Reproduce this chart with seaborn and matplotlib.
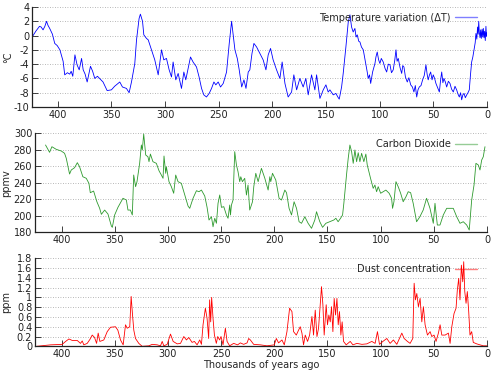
import matplotlib
matplotlib.use("Agg")
import matplotlib.pyplot as plt
from matplotlib.ticker import FuncFormatter
import seaborn as sns
import pandas as pd

# Vostok ice core: temperature, CO2, dust (thousands of years ago)
temp_age = [423, 420.5, 417, 415.5, 413.7, 412, 410.5, 409, 407.5, 405, 402.8, 400.5, 398, 395,
            393.5, 391, 388.8, 387.5, 386, 384, 382, 380, 377.8, 376.3, 374.5, 372.6, 369.5, 367.5,
            365.5, 363, 361, 357.8, 354, 350, 347, 343.8, 342.2, 339.7, 336, 333.5, 331.3, 328.2,
            326.6, 324.2, 323, 321, 319.8, 317.3, 315.7, 312.6, 309.6, 306.4, 303.3, 301.2, 298.7,
            296.2, 294, 292.5, 290, 287.8, 284.7, 282.5, 280.7, 278.5, 276.3, 273.9, 270.7, 268.3,
            266, 263.9, 261.4, 258.9, 256.7, 254.5, 252.7, 250.5, 248.3, 245.8, 242.7, 240.2, 238,
            236.5, 234.9, 232.7, 230.9, 228.6, 226.5, 224.6, 222.5, 221, 219, 217.2, 214.7, 211.7,
            208.6, 206, 203.9, 201.7, 199.3, 196.1, 193, 190.9, 188.3, 185.3, 182.1, 180, 177.4,
            174.4, 171.3, 168.8, 166.6, 163.5, 160.4, 158.8, 155.7, 152.6, 150.1, 148, 146.4, 143.3,
            140.8, 139, 137.7, 135.5, 134, 131.5, 129.3, 127.7, 126.2, 124.7, 123.1, 122, 120.9,
            119.5, 118.4, 117, 115.3, 114, 112.8, 111.5, 110.7, 109.5, 108.4, 106.6, 105.5, 104.4,
            103.5, 102.3, 101, 99.8, 98.5, 96.7, 95, 93.5, 92, 90.4, 89, 87.4, 86, 84.8, 83.8, 82.7,
            81, 79.5, 78.5, 77.4, 76, 74.3, 72.8, 71.1, 69.5, 68.1, 66.8, 65.5, 64.3, 63.1, 61.5, 60,
            58.5, 56.9, 55.8, 54.8, 53.6, 52.5, 51.2, 50.1, 48.8, 47.6, 46, 44.4, 43.3, 42.2, 41.1,
            40.1, 38.8, 37.6, 36, 34.5, 33, 31.4, 29.8, 28.3, 27, 25.8, 24.6, 23.6, 22.5, 21.4, 20.2,
            18.9, 17.7, 16.5, 15.4, 14.3, 13.2, 12.1, 11, 10.3, 9.5, 8.8, 8.2, 7.7, 7.2, 6.5, 5.9,
            5.3, 4.6, 4, 3.4, 2.8, 2.2, 1.6, 1.0, 0.5, 0]
temp_val = [0.0, 0.6, 1.3, 1.2, 0.8, 1.3, 2.0, 1.4, 1.0, 0.2, -1.1, -1.4, -2.0, -3.6,
            -5.5, -5.2, -5.4, -5.0, -5.7, -2.7, -4.1, -4.8, -3.2, -4.8, -5.4, -6.5, -4.3, -5.0,
            -6.0, -5.7, -6.0, -6.5, -7.7, -7.6, -7.1, -6.7, -6.5, -7.2, -7.4, -8.0, -6.5, -3.9,
            -0.6, 2.4, 3.0, 2.0, 0.1, -0.4, -0.6, -2.0, -3.4, -5.5, -2.0, -3.4, -3.2,
            -4.8, -5.8, -3.7, -6.2, -5.3, -7.4, -5.1, -6.2, -4.6, -3.0, -3.7, -4.4, -5.8,
            -7.4, -8.3, -8.6, -8.1, -7.4, -6.5, -6.9, -6.5, -7.2, -6.7, -5.1, -1.1, 2.0,
            0.1, -2.0, -3.2, -4.8, -7.2, -6.2, -7.4, -5.1, -4.8, -2.5, -1.1, -1.6, -2.5,
            -3.4, -4.8, -2.7, -1.8, -3.4, -4.8, -6.0, -3.7, -6.7, -8.6, -7.9, -5.5, -7.6,
            -6.0, -7.2, -6.0, -8.3, -5.5, -7.6, -5.5, -8.8, -7.6, -6.9, -7.9, -7.6, -8.3,
            -8.1, -8.6, -8.9, -7.2, -5.3, -1.6, 1.9, 2.9, 1.2, 0.5, 1.0, -0.2, 0.1,
            -0.8, -0.9, -1.6, -2.0, -3.0, -4.1, -5.2, -6.0, -5.5, -6.7, -5.1, -4.5, -3.9,
            -3.0, -2.3, -3.4, -3.9, -3.2, -3.7, -4.6, -5.1, -4.0, -4.1, -5.2, -4.8, -3.5, -2.0, -3.6, -3.2,
            -4.5, -5.3, -4.2, -4.4, -5.8, -6.5, -5.9, -6.9, -7.2, -7.9, -7.0, -8.6, -7.6, -7.2, -7.0, -6.2,
            -5.6, -4.1, -5.4, -6.2, -5.5, -5.1, -6.2, -5.5, -6.0, -6.7, -7.3, -7.9, -6.3, -5.1, -6.6,
            -6.0, -6.5, -7.2, -6.4, -6.7, -7.5, -7.9, -7.1, -7.6, -8.2, -8.6, -8.0, -9.0, -8.3, -8.1, -8.7,
            -8.3, -8.0, -7.6, -5.5, -3.7, -3.0, -2.0, -1.0, 0.3, -0.5, 1.2, 0.2, 2.0, 0.5, -0.3, 0.8,
            -0.4, 0.9, -0.2, 1.0, -0.3, 0.6, -0.7, 1.3, -0.1, 0.4]

co2_age = [415.1, 411.3, 409.1, 405, 400.3, 397.2, 395.6, 392.5, 390.9, 387.8, 385.2, 383.1, 380,
           376.8, 374.3, 373, 369.9, 366.8, 364.2, 362.6, 359.5, 356.4, 353.2, 352.3, 350.1, 347,
           342.3, 339.1, 337.6, 335.3, 333.5, 332.2, 330.4, 329.1, 326.6, 325, 324.1, 322.8, 320.9,
           318.8, 317.8, 316.5, 314.1, 310.9, 308.4, 306.2, 304.6, 303.7, 302.1, 301.5, 299, 296.8,
           294.6, 292.7, 290.5, 287.4, 284.2, 281.1, 279.5, 276.4, 273.2, 270.8, 268.5, 265.4,
           263.2, 261.4, 259.1, 257.6, 256, 254.4, 252.9, 251.3, 249.7, 247.5, 245, 243.5, 241.9,
           241.2, 240.3, 238.8, 237.2, 235.6, 234.1, 232.5, 231.5, 230, 227.8, 226.2, 224.7, 223.1,
           220.5, 219.3, 217.4, 215.2, 212.1, 208.9, 205.8, 204.2, 203.3, 201.7, 198.6, 195.5,
           193.2, 190.1, 188.5, 186.1, 183.8, 181.4, 179.1, 176.7, 174.4, 171.3, 168.2, 165, 161.9,
           160.3, 157.2, 154.6, 151.5, 147.8, 144, 142.1, 140, 137.7, 135.8, 134.6, 132.1, 130.5,
           128.9, 127.3, 125.8, 124.2, 122.6, 121.1, 119.5, 117.9, 115.8, 113.9, 112.6, 109.5, 107,
           105.4, 103.8, 102.3, 100, 97.6, 95.1, 92, 89.7, 88.8, 87.5, 85.6, 83.5, 81.2, 78.8, 76.2,
           74.1, 71.8, 69.4, 66.2, 63.1, 60, 56.8, 53.6, 50.5, 48.9, 46.7, 44.2, 41.1, 37.9, 31.7,
           28.5, 25.4, 22.3, 19.1, 16.7, 14.4, 12.2, 10.4, 8.2, 6.6, 5, 3.5, 1.9]
co2_val = [285.8, 276.9, 283.7, 280.5, 278.5, 275.7, 269.6, 250.5, 255.4, 258.2, 264.3, 259.4, 247.2,
           245.3, 239.2, 227.8, 229.8, 216.8, 208.8, 201.5, 206.7, 201.9, 187.3, 185.7, 200.7, 210,
           221, 218.9, 206.7, 206.7, 200.7, 249.3, 235.1, 241.2, 263.5, 285.8, 279.7, 299.1, 273.6,
           271.5, 265.5, 274.8, 265.5, 263.5, 254.5, 249.3, 245.3, 272.4, 251.4, 259.4, 241.2, 235.1,
           227.1, 249.3, 241.2, 239.2, 225, 211.6, 208.8, 221, 230.2, 229, 231, 223.8,
           210, 194.6, 198.6, 186.4, 196.7, 190.6, 214.9, 225, 210, 210.8, 200.7, 196.7, 212.8,
           200.7, 212.8, 218.9, 277.7, 261.5, 253.3, 241.2, 247.2, 241.2, 245.3, 225, 237.1, 206.7,
           216.8, 235.1, 251.4, 241.2, 257.4, 245.3, 231, 247.2, 241.2, 251.4, 243.2, 221,
           218.9, 231, 227.8, 208.8, 200.7, 216.8, 208.8, 192.5, 190.6, 198.6, 190.6, 184.5, 194.6,
           204.7, 192.5, 185.7, 190.6, 192.5, 194.6, 196.7, 192.5, 196.7, 200.7, 214.9, 249.3, 269.6,
           285.8, 277.7, 263.5, 279.7, 265.5, 276.4, 265.5, 275.7, 265.5, 274.8, 261.5, 245.3, 233.1,
           237.1, 229, 235.1, 227.1, 229, 231, 227.1, 221, 208.8, 216.8, 241.2, 235.1, 227.1, 216.8, 222.9,
           229, 227.8, 214.9, 192.5, 198.6, 206.7, 221, 208.8, 190.6, 214.9, 188.5, 188.5, 200.7, 208.8, 208.8,
           198.6, 190.6, 192.5, 188.5, 182.4, 218.9, 237.1, 263.5, 261.5, 255.4, 267.5, 271.5, 283.7]

dust_age = [423.5, 410.3, 399.4, 396.2, 393.1, 390, 385.3, 382.2, 380.6, 379.1, 375.9, 373.4, 371.2,
            369, 367.1, 365.6, 364, 360.3, 357.1, 354, 349.3, 347.1, 344.6, 342.1, 339.9, 338.3,
            335.9, 334.6, 333.3, 332.1, 330.5, 327.4, 324.2, 318, 314.8, 310.1, 307, 305.4, 303.9,
            300.7, 297.6, 295.1, 291.3, 288.2, 285.1, 282.6, 280.4, 277.3, 275.1, 272.6, 270.1,
            268.5, 267, 264.8, 263.2, 261.7, 260.8, 259.8, 258.9, 257.6, 256.3, 254.5, 253.2, 251.4,
            250.1, 248.2, 246, 244.4, 242, 238.2, 234.5, 231.9, 228.8, 225.6, 224.1, 222.5, 219.4,
            213.1, 206.9, 200, 198.1, 196, 192.8, 190.6, 188.1, 185.6, 183.4, 181.9, 179.3, 177.2,
            175.6, 174, 172.5, 170.9, 168.7, 166.8, 164.6, 163.1, 161.5, 159.9, 158.4, 156.8, 155.6,
            154.3, 153.1, 151.2, 150, 148.7, 147.4, 146.2, 144.9, 143.7, 142.4, 141.1, 139.9, 138.7,
            137.4, 136.2, 134.9, 132.4, 128.6, 126.1, 122.3, 117.6, 113, 108.3, 105.2, 103, 101.1,
            97.9, 94.2, 91.1, 88, 84.8, 80.1, 77.9, 74.8, 72.3, 69.8, 68.5, 67.3, 66, 64.5, 62.9,
            61.3, 59.8, 58.2, 56, 53.5, 51.9, 49.8, 47.9, 45.7, 44.1, 42.5, 39.4, 36.3, 34.7, 33.1,
            31, 29.1, 27.9, 26.6, 25.4, 24.1, 22.8, 21.9, 20.9, 19.7, 18.5, 17.2, 16, 14.4, 12.9,
            9.7, 6.6, 3.5, 0.3]
dust_val = [0.0, 0.03, 0.04, 0.1, 0.15, 0.12, 0.12, 0.06, 0.11, 0.03, 0.06, 0.14, 0.23,
            0.18, 0.06, 0.27, 0.1, 0.13, 0.3, 0.39, 0.4, 0.33, 0.13, 0.03, 0.44, 0.37,
            0.4, 1.02, 0.64, 0.33, 0.16, 0.06, 0.0, 0.01, 0.04, 0.03, 0.01, 0.1, 0.01,
            0.04, 0.25, 0.1, 0.05, 0.06, 0.2, 0.13, 0.18, 0.08, 0.1, 0.03, 0.13,
            0.04, 0.44, 0.78, 0.57, 0.16, 0.95, 0.5, 1.0, 0.57, 0.23, 0.06, 0.2, 0.13,
            0.2, 0.03, 0.37, 0.1, 0.01, 0.06, 0.03, 0.07, 0.04, 0.07, 0.16, 0.13, 0.04,
            0.03, 0.01, 0.03, 0.16, 0.07, 0.13, 0.03, 0.3, 0.78, 0.71, 0.3, 0.23, 0.33,
            0.4, 0.27, 0.03, 0.23, 0.1, 0.23, 0.61, 0.23, 0.74, 0.2, 0.37, 0.85, 1.22,
            0.85, 0.23, 0.85, 0.44, 0.64, 0.5, 0.81, 0.3, 0.98, 0.64, 0.98, 0.44, 0.71,
            0.23, 0.5, 0.1, 0.03, 0.1, 0.03, 0.06, 0.04, 0.05, 0.1, 0.06, 0.3, 0.04,
            0.1, 0.16, 0.06, 0.13, 0.04, 0.27, 0.16, 0.1, 0.06, 0.16, 1.29, 0.95, 1.08, 0.81, 0.98,
            0.5, 0.81, 0.44, 0.23, 0.3, 0.2, 0.23, 0.1, 0.27, 0.44, 0.23, 0.23, 0.27, 0.06, 0.4,
            0.67, 0.78, 1.15, 1.39, 0.95, 1.66, 1.32, 1.73, 1.12, 0.88, 1.12, 0.71, 0.23, 0.3, 0.08,
            0.05, 0.03, 0.01, 0.01]

temp_df = pd.DataFrame({"age": temp_age, "val": temp_val})
co2_df = pd.DataFrame({"age": co2_age, "val": co2_val})
dust_df = pd.DataFrame({"age": dust_age, "val": dust_val})

sns.set_style("ticks")
plt.rcParams["font.family"] = ["DejaVu Sans"]
plt.rcParams["font.size"] = 7

fig = plt.figure(figsize=(5, 3.75), dpi=100)
ax1 = fig.add_axes([0.064, 0.7147, 0.91, 0.2666])
ax2 = fig.add_axes([0.070, 0.3813, 0.904, 0.2632])
ax3 = fig.add_axes([0.070, 0.0765, 0.904, 0.2347])

panels = [
    (ax1, temp_df, "#0000ff", "Temperature variation (ΔT)", "°C", (-10, 4), range(-10, 5, 2), 424, -0.042),
    (ax2, co2_df, "#2e9a2e", "Carbon Dioxide", "ppmv", (180, 300), range(180, 301, 20), 425, -0.052),
    (ax3, dust_df, "#ff0000", "Dust concentration", "ppm", (0, 1.8), [i / 10 for i in range(0, 19, 2)], 425, -0.052),
]

for ax, df, color, name, unit, ylim, yticks, xmax, labx in panels:
    sns.lineplot(data=df, x="age", y="val", ax=ax, color=color, linewidth=0.6,
                 label=name, estimator=None)
    ax.set_xlim(xmax, 0)
    ax.set_ylim(*ylim)
    ax.set_yticks(list(yticks))
    ax.set_xticks([400, 350, 300, 250, 200, 150, 100, 50, 0])
    ax.yaxis.set_major_formatter(FuncFormatter(lambda v, p: "%g" % round(v, 1)))
    ax.grid(axis="y", linestyle=(0, (1, 2)), color="#a0a0a0", linewidth=0.6)
    ax.grid(axis="x", visible=False)
    ax.tick_params(direction="in", length=4, width=0.6, labelsize=7, pad=2, colors="#222222")
    for s in ["top", "right"]:
        ax.spines[s].set_visible(False)
    for s in ["left", "bottom"]:
        ax.spines[s].set_linewidth(0.9)
        ax.spines[s].set_color("#222222")
    ax.set_ylabel(unit, fontsize=7)
    ax.yaxis.set_label_coords(labx, 0.5)
    ax.set_xlabel("")
    leg = ax.legend(loc="upper right", frameon=False, markerfirst=False, fontsize=7,
                    handlelength=2.2, handletextpad=0.5, borderaxespad=0.2,
                    bbox_to_anchor=(0.99, 1.0))
    for h in leg.get_lines():
        h.set_alpha(0.5)
        h.set_linewidth(1.0)

ax3.set_xlabel("Thousands of years ago", fontsize=7, labelpad=1)
fig.savefig("out.png", dpi=100)
